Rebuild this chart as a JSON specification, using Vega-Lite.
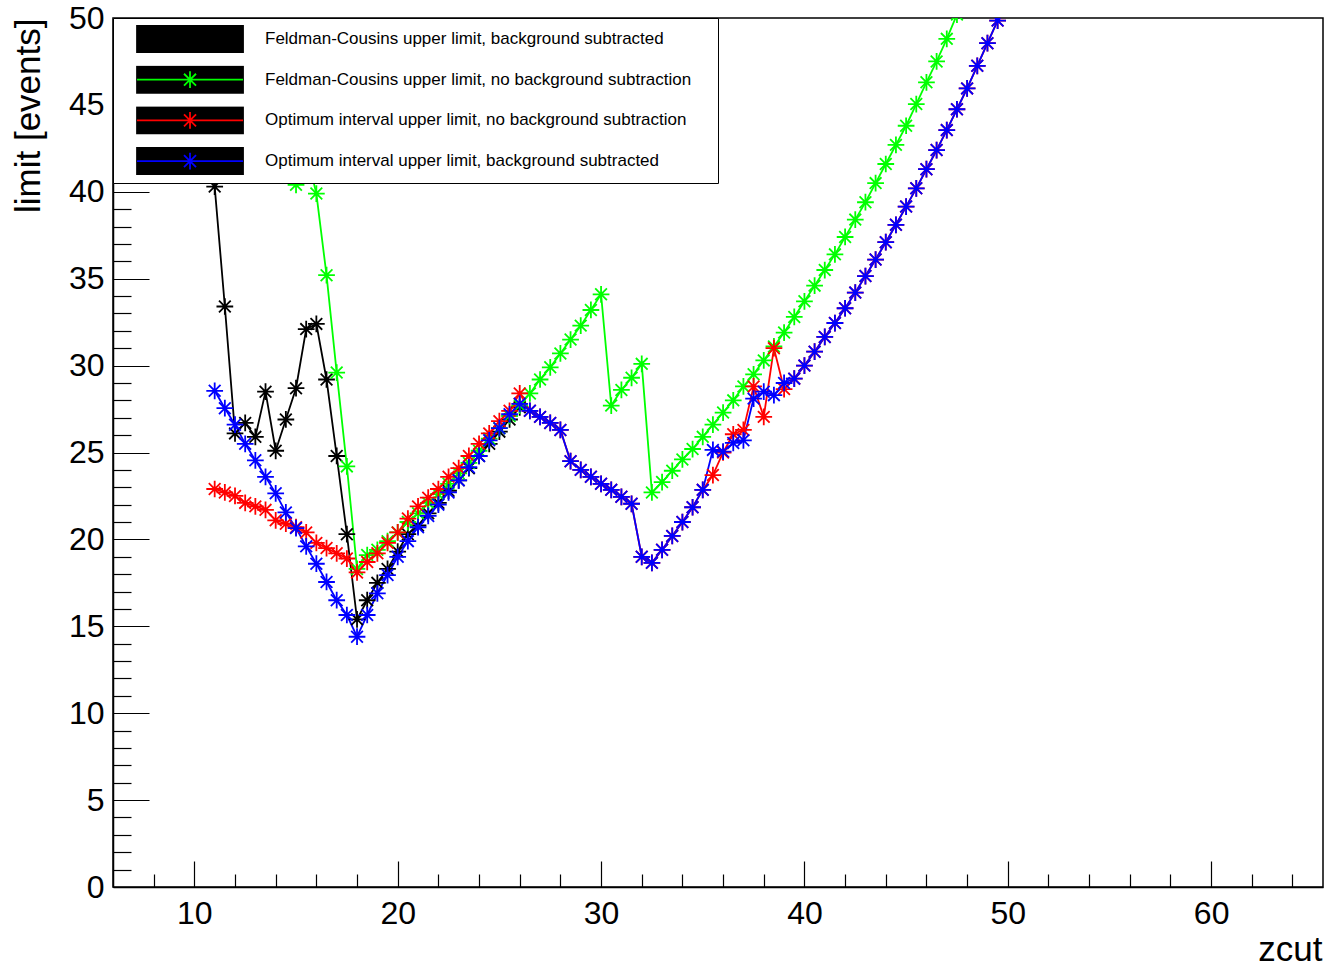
{
  "$schema": "https://vega.github.io/schema/vega-lite/v6.json",
  "width": 1210,
  "height": 869,
  "autosize": "none",
  "padding": {"left": 113, "top": 18, "right": 5, "bottom": 80},
  "background": "white",
  "config": {
    "view": {"stroke": "black", "strokeWidth": 1.5},
    "font": "Liberation Sans",
    "axis": {"grid": false, "domainColor": "black", "domainWidth": 1.5, "tickColor": "black", "tickWidth": 1.2, "labelColor": "black", "labelFont": "Liberation Sans", "labelFontSize": 32, "titleFont": "Liberation Sans", "titleFontSize": 35, "titleFontWeight": "normal", "titleColor": "black", "labelFlush": false, "labelOverlap": false},
    "legend": {"labelFont": "Liberation Sans", "labelFontSize": 17, "labelColor": "black", "labelLimit": 1000, "padding": 7, "rowPadding": 12.7, "clipHeight": 28, "symbolSize": 19600, "symbolStrokeWidth": 1.8, "labelOffset": 3, "symbolOpacity": 1}
  },
  "data": {"values": [
    {"series": "Feldman-Cousins upper limit, background subtracted", "zcut": 11, "limit": 40.3},
    {"series": "Feldman-Cousins upper limit, background subtracted", "zcut": 11.5, "limit": 33.4},
    {"series": "Feldman-Cousins upper limit, background subtracted", "zcut": 12, "limit": 26.1},
    {"series": "Feldman-Cousins upper limit, background subtracted", "zcut": 12.5, "limit": 26.7},
    {"series": "Feldman-Cousins upper limit, background subtracted", "zcut": 13, "limit": 25.9},
    {"series": "Feldman-Cousins upper limit, background subtracted", "zcut": 13.5, "limit": 28.5},
    {"series": "Feldman-Cousins upper limit, background subtracted", "zcut": 14, "limit": 25.1},
    {"series": "Feldman-Cousins upper limit, background subtracted", "zcut": 14.5, "limit": 26.9},
    {"series": "Feldman-Cousins upper limit, background subtracted", "zcut": 15, "limit": 28.7},
    {"series": "Feldman-Cousins upper limit, background subtracted", "zcut": 15.5, "limit": 32.1},
    {"series": "Feldman-Cousins upper limit, background subtracted", "zcut": 16, "limit": 32.4},
    {"series": "Feldman-Cousins upper limit, background subtracted", "zcut": 16.5, "limit": 29.2},
    {"series": "Feldman-Cousins upper limit, background subtracted", "zcut": 17, "limit": 24.8},
    {"series": "Feldman-Cousins upper limit, background subtracted", "zcut": 17.5, "limit": 20.3},
    {"series": "Feldman-Cousins upper limit, background subtracted", "zcut": 18, "limit": 15.4},
    {"series": "Feldman-Cousins upper limit, background subtracted", "zcut": 18.5, "limit": 16.5},
    {"series": "Feldman-Cousins upper limit, background subtracted", "zcut": 19, "limit": 17.5},
    {"series": "Feldman-Cousins upper limit, background subtracted", "zcut": 19.5, "limit": 18.3},
    {"series": "Feldman-Cousins upper limit, background subtracted", "zcut": 20, "limit": 19.3},
    {"series": "Feldman-Cousins upper limit, background subtracted", "zcut": 20.5, "limit": 20.3},
    {"series": "Feldman-Cousins upper limit, background subtracted", "zcut": 21, "limit": 20.8},
    {"series": "Feldman-Cousins upper limit, background subtracted", "zcut": 21.5, "limit": 21.5},
    {"series": "Feldman-Cousins upper limit, background subtracted", "zcut": 22, "limit": 22.1},
    {"series": "Feldman-Cousins upper limit, background subtracted", "zcut": 22.5, "limit": 22.8},
    {"series": "Feldman-Cousins upper limit, background subtracted", "zcut": 23, "limit": 23.4},
    {"series": "Feldman-Cousins upper limit, background subtracted", "zcut": 23.5, "limit": 24.1},
    {"series": "Feldman-Cousins upper limit, background subtracted", "zcut": 24, "limit": 24.8},
    {"series": "Feldman-Cousins upper limit, background subtracted", "zcut": 24.5, "limit": 25.5},
    {"series": "Feldman-Cousins upper limit, background subtracted", "zcut": 25, "limit": 26.2},
    {"series": "Feldman-Cousins upper limit, background subtracted", "zcut": 25.5, "limit": 26.9},
    {"series": "Feldman-Cousins upper limit, background subtracted", "zcut": 26, "limit": 27.6},

    {"series": "Feldman-Cousins upper limit, no background subtraction", "zcut": 11, "limit": 47.0},
    {"series": "Feldman-Cousins upper limit, no background subtraction", "zcut": 11.5, "limit": 45.5},
    {"series": "Feldman-Cousins upper limit, no background subtraction", "zcut": 12, "limit": 44.0},
    {"series": "Feldman-Cousins upper limit, no background subtraction", "zcut": 12.5, "limit": 44.5},
    {"series": "Feldman-Cousins upper limit, no background subtraction", "zcut": 13, "limit": 43.5},
    {"series": "Feldman-Cousins upper limit, no background subtraction", "zcut": 13.5, "limit": 45.0},
    {"series": "Feldman-Cousins upper limit, no background subtraction", "zcut": 14, "limit": 43.0},
    {"series": "Feldman-Cousins upper limit, no background subtraction", "zcut": 14.5, "limit": 44.0},
    {"series": "Feldman-Cousins upper limit, no background subtraction", "zcut": 15, "limit": 40.4},
    {"series": "Feldman-Cousins upper limit, no background subtraction", "zcut": 15.5, "limit": 42.3},
    {"series": "Feldman-Cousins upper limit, no background subtraction", "zcut": 16, "limit": 39.9},
    {"series": "Feldman-Cousins upper limit, no background subtraction", "zcut": 16.5, "limit": 35.2},
    {"series": "Feldman-Cousins upper limit, no background subtraction", "zcut": 17, "limit": 29.6},
    {"series": "Feldman-Cousins upper limit, no background subtraction", "zcut": 17.5, "limit": 24.2},
    {"series": "Feldman-Cousins upper limit, no background subtraction", "zcut": 18, "limit": 18.3},
    {"series": "Feldman-Cousins upper limit, no background subtraction", "zcut": 18.5, "limit": 19.1},
    {"series": "Feldman-Cousins upper limit, no background subtraction", "zcut": 19, "limit": 19.4},
    {"series": "Feldman-Cousins upper limit, no background subtraction", "zcut": 19.5, "limit": 19.9},
    {"series": "Feldman-Cousins upper limit, no background subtraction", "zcut": 20, "limit": 20.4},
    {"series": "Feldman-Cousins upper limit, no background subtraction", "zcut": 20.5, "limit": 21.0},
    {"series": "Feldman-Cousins upper limit, no background subtraction", "zcut": 21, "limit": 21.5},
    {"series": "Feldman-Cousins upper limit, no background subtraction", "zcut": 21.5, "limit": 22.1},
    {"series": "Feldman-Cousins upper limit, no background subtraction", "zcut": 22, "limit": 22.6},
    {"series": "Feldman-Cousins upper limit, no background subtraction", "zcut": 22.5, "limit": 23.2},
    {"series": "Feldman-Cousins upper limit, no background subtraction", "zcut": 23, "limit": 23.8},
    {"series": "Feldman-Cousins upper limit, no background subtraction", "zcut": 23.5, "limit": 24.4},
    {"series": "Feldman-Cousins upper limit, no background subtraction", "zcut": 24, "limit": 25.1},
    {"series": "Feldman-Cousins upper limit, no background subtraction", "zcut": 24.5, "limit": 25.8},
    {"series": "Feldman-Cousins upper limit, no background subtraction", "zcut": 25, "limit": 26.4},
    {"series": "Feldman-Cousins upper limit, no background subtraction", "zcut": 25.5, "limit": 27.1},
    {"series": "Feldman-Cousins upper limit, no background subtraction", "zcut": 26, "limit": 27.7},
    {"series": "Feldman-Cousins upper limit, no background subtraction", "zcut": 26.5, "limit": 28.4},
    {"series": "Feldman-Cousins upper limit, no background subtraction", "zcut": 27, "limit": 29.2},
    {"series": "Feldman-Cousins upper limit, no background subtraction", "zcut": 27.5, "limit": 29.9},
    {"series": "Feldman-Cousins upper limit, no background subtraction", "zcut": 28, "limit": 30.7},
    {"series": "Feldman-Cousins upper limit, no background subtraction", "zcut": 28.5, "limit": 31.5},
    {"series": "Feldman-Cousins upper limit, no background subtraction", "zcut": 29, "limit": 32.3},
    {"series": "Feldman-Cousins upper limit, no background subtraction", "zcut": 29.5, "limit": 33.2},
    {"series": "Feldman-Cousins upper limit, no background subtraction", "zcut": 30, "limit": 34.1},
    {"series": "Feldman-Cousins upper limit, no background subtraction", "zcut": 30.5, "limit": 27.7},
    {"series": "Feldman-Cousins upper limit, no background subtraction", "zcut": 31, "limit": 28.6},
    {"series": "Feldman-Cousins upper limit, no background subtraction", "zcut": 31.5, "limit": 29.3},
    {"series": "Feldman-Cousins upper limit, no background subtraction", "zcut": 32, "limit": 30.1},
    {"series": "Feldman-Cousins upper limit, no background subtraction", "zcut": 32.5, "limit": 22.7},
    {"series": "Feldman-Cousins upper limit, no background subtraction", "zcut": 33, "limit": 23.3},
    {"series": "Feldman-Cousins upper limit, no background subtraction", "zcut": 33.5, "limit": 23.95},
    {"series": "Feldman-Cousins upper limit, no background subtraction", "zcut": 34, "limit": 24.6},
    {"series": "Feldman-Cousins upper limit, no background subtraction", "zcut": 34.5, "limit": 25.2},
    {"series": "Feldman-Cousins upper limit, no background subtraction", "zcut": 35, "limit": 25.9},
    {"series": "Feldman-Cousins upper limit, no background subtraction", "zcut": 35.5, "limit": 26.6},
    {"series": "Feldman-Cousins upper limit, no background subtraction", "zcut": 36, "limit": 27.3},
    {"series": "Feldman-Cousins upper limit, no background subtraction", "zcut": 36.5, "limit": 28.0},
    {"series": "Feldman-Cousins upper limit, no background subtraction", "zcut": 37, "limit": 28.8},
    {"series": "Feldman-Cousins upper limit, no background subtraction", "zcut": 37.5, "limit": 29.5},
    {"series": "Feldman-Cousins upper limit, no background subtraction", "zcut": 38, "limit": 30.3},
    {"series": "Feldman-Cousins upper limit, no background subtraction", "zcut": 38.5, "limit": 31.1},
    {"series": "Feldman-Cousins upper limit, no background subtraction", "zcut": 39, "limit": 31.9},
    {"series": "Feldman-Cousins upper limit, no background subtraction", "zcut": 39.5, "limit": 32.8},
    {"series": "Feldman-Cousins upper limit, no background subtraction", "zcut": 40, "limit": 33.7},
    {"series": "Feldman-Cousins upper limit, no background subtraction", "zcut": 40.5, "limit": 34.6},
    {"series": "Feldman-Cousins upper limit, no background subtraction", "zcut": 41, "limit": 35.5},
    {"series": "Feldman-Cousins upper limit, no background subtraction", "zcut": 41.5, "limit": 36.4},
    {"series": "Feldman-Cousins upper limit, no background subtraction", "zcut": 42, "limit": 37.4},
    {"series": "Feldman-Cousins upper limit, no background subtraction", "zcut": 42.5, "limit": 38.4},
    {"series": "Feldman-Cousins upper limit, no background subtraction", "zcut": 43, "limit": 39.4},
    {"series": "Feldman-Cousins upper limit, no background subtraction", "zcut": 43.5, "limit": 40.5},
    {"series": "Feldman-Cousins upper limit, no background subtraction", "zcut": 44, "limit": 41.6},
    {"series": "Feldman-Cousins upper limit, no background subtraction", "zcut": 44.5, "limit": 42.7},
    {"series": "Feldman-Cousins upper limit, no background subtraction", "zcut": 45, "limit": 43.8},
    {"series": "Feldman-Cousins upper limit, no background subtraction", "zcut": 45.5, "limit": 45.05},
    {"series": "Feldman-Cousins upper limit, no background subtraction", "zcut": 46, "limit": 46.3},
    {"series": "Feldman-Cousins upper limit, no background subtraction", "zcut": 46.5, "limit": 47.5},
    {"series": "Feldman-Cousins upper limit, no background subtraction", "zcut": 47, "limit": 48.8},
    {"series": "Feldman-Cousins upper limit, no background subtraction", "zcut": 47.5, "limit": 50.2},

    {"series": "Optimum interval upper limit, no background subtraction", "zcut": 11, "limit": 22.9},
    {"series": "Optimum interval upper limit, no background subtraction", "zcut": 11.5, "limit": 22.7},
    {"series": "Optimum interval upper limit, no background subtraction", "zcut": 12, "limit": 22.5},
    {"series": "Optimum interval upper limit, no background subtraction", "zcut": 12.5, "limit": 22.1},
    {"series": "Optimum interval upper limit, no background subtraction", "zcut": 13, "limit": 21.9},
    {"series": "Optimum interval upper limit, no background subtraction", "zcut": 13.5, "limit": 21.7},
    {"series": "Optimum interval upper limit, no background subtraction", "zcut": 14, "limit": 21.1},
    {"series": "Optimum interval upper limit, no background subtraction", "zcut": 14.5, "limit": 20.9},
    {"series": "Optimum interval upper limit, no background subtraction", "zcut": 15, "limit": 20.7},
    {"series": "Optimum interval upper limit, no background subtraction", "zcut": 15.5, "limit": 20.4},
    {"series": "Optimum interval upper limit, no background subtraction", "zcut": 16, "limit": 19.8},
    {"series": "Optimum interval upper limit, no background subtraction", "zcut": 16.5, "limit": 19.5},
    {"series": "Optimum interval upper limit, no background subtraction", "zcut": 17, "limit": 19.2},
    {"series": "Optimum interval upper limit, no background subtraction", "zcut": 17.5, "limit": 18.9},
    {"series": "Optimum interval upper limit, no background subtraction", "zcut": 18, "limit": 18.1},
    {"series": "Optimum interval upper limit, no background subtraction", "zcut": 18.5, "limit": 18.7},
    {"series": "Optimum interval upper limit, no background subtraction", "zcut": 19, "limit": 19.2},
    {"series": "Optimum interval upper limit, no background subtraction", "zcut": 19.5, "limit": 19.8},
    {"series": "Optimum interval upper limit, no background subtraction", "zcut": 20, "limit": 20.4},
    {"series": "Optimum interval upper limit, no background subtraction", "zcut": 20.5, "limit": 21.2},
    {"series": "Optimum interval upper limit, no background subtraction", "zcut": 21, "limit": 21.9},
    {"series": "Optimum interval upper limit, no background subtraction", "zcut": 21.5, "limit": 22.4},
    {"series": "Optimum interval upper limit, no background subtraction", "zcut": 22, "limit": 22.9},
    {"series": "Optimum interval upper limit, no background subtraction", "zcut": 22.5, "limit": 23.6},
    {"series": "Optimum interval upper limit, no background subtraction", "zcut": 23, "limit": 24.1},
    {"series": "Optimum interval upper limit, no background subtraction", "zcut": 23.5, "limit": 24.8},
    {"series": "Optimum interval upper limit, no background subtraction", "zcut": 24, "limit": 25.5},
    {"series": "Optimum interval upper limit, no background subtraction", "zcut": 24.5, "limit": 26.1},
    {"series": "Optimum interval upper limit, no background subtraction", "zcut": 25, "limit": 26.8},
    {"series": "Optimum interval upper limit, no background subtraction", "zcut": 25.5, "limit": 27.4},
    {"series": "Optimum interval upper limit, no background subtraction", "zcut": 26, "limit": 28.4},
    {"series": "Optimum interval upper limit, no background subtraction", "zcut": 26.5, "limit": 27.4},
    {"series": "Optimum interval upper limit, no background subtraction", "zcut": 27, "limit": 27.05},
    {"series": "Optimum interval upper limit, no background subtraction", "zcut": 27.5, "limit": 26.7},
    {"series": "Optimum interval upper limit, no background subtraction", "zcut": 28, "limit": 26.3},
    {"series": "Optimum interval upper limit, no background subtraction", "zcut": 28.5, "limit": 24.5},
    {"series": "Optimum interval upper limit, no background subtraction", "zcut": 29, "limit": 24.0},
    {"series": "Optimum interval upper limit, no background subtraction", "zcut": 29.5, "limit": 23.6},
    {"series": "Optimum interval upper limit, no background subtraction", "zcut": 30, "limit": 23.2},
    {"series": "Optimum interval upper limit, no background subtraction", "zcut": 30.5, "limit": 22.85},
    {"series": "Optimum interval upper limit, no background subtraction", "zcut": 31, "limit": 22.45},
    {"series": "Optimum interval upper limit, no background subtraction", "zcut": 31.5, "limit": 22.05},
    {"series": "Optimum interval upper limit, no background subtraction", "zcut": 32, "limit": 19.0},
    {"series": "Optimum interval upper limit, no background subtraction", "zcut": 32.5, "limit": 18.65},
    {"series": "Optimum interval upper limit, no background subtraction", "zcut": 33, "limit": 19.4},
    {"series": "Optimum interval upper limit, no background subtraction", "zcut": 33.5, "limit": 20.2},
    {"series": "Optimum interval upper limit, no background subtraction", "zcut": 34, "limit": 21.0},
    {"series": "Optimum interval upper limit, no background subtraction", "zcut": 34.5, "limit": 21.85},
    {"series": "Optimum interval upper limit, no background subtraction", "zcut": 35, "limit": 22.85},
    {"series": "Optimum interval upper limit, no background subtraction", "zcut": 35.5, "limit": 23.7},
    {"series": "Optimum interval upper limit, no background subtraction", "zcut": 36, "limit": 25.0},
    {"series": "Optimum interval upper limit, no background subtraction", "zcut": 36.5, "limit": 26.05},
    {"series": "Optimum interval upper limit, no background subtraction", "zcut": 37, "limit": 26.3},
    {"series": "Optimum interval upper limit, no background subtraction", "zcut": 37.5, "limit": 28.8},
    {"series": "Optimum interval upper limit, no background subtraction", "zcut": 38, "limit": 27.05},
    {"series": "Optimum interval upper limit, no background subtraction", "zcut": 38.5, "limit": 31.0},
    {"series": "Optimum interval upper limit, no background subtraction", "zcut": 39, "limit": 28.65},
    {"series": "Optimum interval upper limit, no background subtraction", "zcut": 39.5, "limit": 29.25},
    {"series": "Optimum interval upper limit, no background subtraction", "zcut": 40, "limit": 30.0},
    {"series": "Optimum interval upper limit, no background subtraction", "zcut": 40.5, "limit": 30.8},
    {"series": "Optimum interval upper limit, no background subtraction", "zcut": 41, "limit": 31.65},
    {"series": "Optimum interval upper limit, no background subtraction", "zcut": 41.5, "limit": 32.45},
    {"series": "Optimum interval upper limit, no background subtraction", "zcut": 42, "limit": 33.3},
    {"series": "Optimum interval upper limit, no background subtraction", "zcut": 42.5, "limit": 34.2},
    {"series": "Optimum interval upper limit, no background subtraction", "zcut": 43, "limit": 35.15},
    {"series": "Optimum interval upper limit, no background subtraction", "zcut": 43.5, "limit": 36.1},
    {"series": "Optimum interval upper limit, no background subtraction", "zcut": 44, "limit": 37.1},
    {"series": "Optimum interval upper limit, no background subtraction", "zcut": 44.5, "limit": 38.1},
    {"series": "Optimum interval upper limit, no background subtraction", "zcut": 45, "limit": 39.15},
    {"series": "Optimum interval upper limit, no background subtraction", "zcut": 45.5, "limit": 40.2},
    {"series": "Optimum interval upper limit, no background subtraction", "zcut": 46, "limit": 41.3},
    {"series": "Optimum interval upper limit, no background subtraction", "zcut": 46.5, "limit": 42.4},
    {"series": "Optimum interval upper limit, no background subtraction", "zcut": 47, "limit": 43.55},
    {"series": "Optimum interval upper limit, no background subtraction", "zcut": 47.5, "limit": 44.75},
    {"series": "Optimum interval upper limit, no background subtraction", "zcut": 48, "limit": 45.95},
    {"series": "Optimum interval upper limit, no background subtraction", "zcut": 48.5, "limit": 47.25},
    {"series": "Optimum interval upper limit, no background subtraction", "zcut": 49, "limit": 48.55},
    {"series": "Optimum interval upper limit, no background subtraction", "zcut": 49.5, "limit": 49.85},

    {"series": "Optimum interval upper limit, background subtracted", "zcut": 11, "limit": 28.55},
    {"series": "Optimum interval upper limit, background subtracted", "zcut": 11.5, "limit": 27.55},
    {"series": "Optimum interval upper limit, background subtracted", "zcut": 12, "limit": 26.6},
    {"series": "Optimum interval upper limit, background subtracted", "zcut": 12.5, "limit": 25.5},
    {"series": "Optimum interval upper limit, background subtracted", "zcut": 13, "limit": 24.55},
    {"series": "Optimum interval upper limit, background subtracted", "zcut": 13.5, "limit": 23.6},
    {"series": "Optimum interval upper limit, background subtracted", "zcut": 14, "limit": 22.65},
    {"series": "Optimum interval upper limit, background subtracted", "zcut": 14.5, "limit": 21.55},
    {"series": "Optimum interval upper limit, background subtracted", "zcut": 15, "limit": 20.65},
    {"series": "Optimum interval upper limit, background subtracted", "zcut": 15.5, "limit": 19.6},
    {"series": "Optimum interval upper limit, background subtracted", "zcut": 16, "limit": 18.6},
    {"series": "Optimum interval upper limit, background subtracted", "zcut": 16.5, "limit": 17.55},
    {"series": "Optimum interval upper limit, background subtracted", "zcut": 17, "limit": 16.5},
    {"series": "Optimum interval upper limit, background subtracted", "zcut": 17.5, "limit": 15.65},
    {"series": "Optimum interval upper limit, background subtracted", "zcut": 18, "limit": 14.4},
    {"series": "Optimum interval upper limit, background subtracted", "zcut": 18.5, "limit": 15.65},
    {"series": "Optimum interval upper limit, background subtracted", "zcut": 19, "limit": 16.9},
    {"series": "Optimum interval upper limit, background subtracted", "zcut": 19.5, "limit": 17.95},
    {"series": "Optimum interval upper limit, background subtracted", "zcut": 20, "limit": 19.0},
    {"series": "Optimum interval upper limit, background subtracted", "zcut": 20.5, "limit": 19.9},
    {"series": "Optimum interval upper limit, background subtracted", "zcut": 21, "limit": 20.7},
    {"series": "Optimum interval upper limit, background subtracted", "zcut": 21.5, "limit": 21.35},
    {"series": "Optimum interval upper limit, background subtracted", "zcut": 22, "limit": 22.0},
    {"series": "Optimum interval upper limit, background subtracted", "zcut": 22.5, "limit": 22.7},
    {"series": "Optimum interval upper limit, background subtracted", "zcut": 23, "limit": 23.4},
    {"series": "Optimum interval upper limit, background subtracted", "zcut": 23.5, "limit": 24.15},
    {"series": "Optimum interval upper limit, background subtracted", "zcut": 24, "limit": 24.8},
    {"series": "Optimum interval upper limit, background subtracted", "zcut": 24.5, "limit": 25.7},
    {"series": "Optimum interval upper limit, background subtracted", "zcut": 25, "limit": 26.4},
    {"series": "Optimum interval upper limit, background subtracted", "zcut": 25.5, "limit": 27.2},
    {"series": "Optimum interval upper limit, background subtracted", "zcut": 26, "limit": 27.8},
    {"series": "Optimum interval upper limit, background subtracted", "zcut": 26.5, "limit": 27.4},
    {"series": "Optimum interval upper limit, background subtracted", "zcut": 27, "limit": 27.05},
    {"series": "Optimum interval upper limit, background subtracted", "zcut": 27.5, "limit": 26.7},
    {"series": "Optimum interval upper limit, background subtracted", "zcut": 28, "limit": 26.3},
    {"series": "Optimum interval upper limit, background subtracted", "zcut": 28.5, "limit": 24.5},
    {"series": "Optimum interval upper limit, background subtracted", "zcut": 29, "limit": 24.0},
    {"series": "Optimum interval upper limit, background subtracted", "zcut": 29.5, "limit": 23.6},
    {"series": "Optimum interval upper limit, background subtracted", "zcut": 30, "limit": 23.2},
    {"series": "Optimum interval upper limit, background subtracted", "zcut": 30.5, "limit": 22.85},
    {"series": "Optimum interval upper limit, background subtracted", "zcut": 31, "limit": 22.45},
    {"series": "Optimum interval upper limit, background subtracted", "zcut": 31.5, "limit": 22.05},
    {"series": "Optimum interval upper limit, background subtracted", "zcut": 32, "limit": 19.0},
    {"series": "Optimum interval upper limit, background subtracted", "zcut": 32.5, "limit": 18.65},
    {"series": "Optimum interval upper limit, background subtracted", "zcut": 33, "limit": 19.4},
    {"series": "Optimum interval upper limit, background subtracted", "zcut": 33.5, "limit": 20.2},
    {"series": "Optimum interval upper limit, background subtracted", "zcut": 34, "limit": 21.0},
    {"series": "Optimum interval upper limit, background subtracted", "zcut": 34.5, "limit": 21.85},
    {"series": "Optimum interval upper limit, background subtracted", "zcut": 35, "limit": 22.85},
    {"series": "Optimum interval upper limit, background subtracted", "zcut": 35.5, "limit": 25.15},
    {"series": "Optimum interval upper limit, background subtracted", "zcut": 36, "limit": 25.05},
    {"series": "Optimum interval upper limit, background subtracted", "zcut": 36.5, "limit": 25.55},
    {"series": "Optimum interval upper limit, background subtracted", "zcut": 37, "limit": 25.7},
    {"series": "Optimum interval upper limit, background subtracted", "zcut": 37.5, "limit": 28.1},
    {"series": "Optimum interval upper limit, background subtracted", "zcut": 38, "limit": 28.5},
    {"series": "Optimum interval upper limit, background subtracted", "zcut": 38.5, "limit": 28.3},
    {"series": "Optimum interval upper limit, background subtracted", "zcut": 39, "limit": 29.0},
    {"series": "Optimum interval upper limit, background subtracted", "zcut": 39.5, "limit": 29.25},
    {"series": "Optimum interval upper limit, background subtracted", "zcut": 40, "limit": 30.0},
    {"series": "Optimum interval upper limit, background subtracted", "zcut": 40.5, "limit": 30.8},
    {"series": "Optimum interval upper limit, background subtracted", "zcut": 41, "limit": 31.65},
    {"series": "Optimum interval upper limit, background subtracted", "zcut": 41.5, "limit": 32.45},
    {"series": "Optimum interval upper limit, background subtracted", "zcut": 42, "limit": 33.3},
    {"series": "Optimum interval upper limit, background subtracted", "zcut": 42.5, "limit": 34.2},
    {"series": "Optimum interval upper limit, background subtracted", "zcut": 43, "limit": 35.15},
    {"series": "Optimum interval upper limit, background subtracted", "zcut": 43.5, "limit": 36.1},
    {"series": "Optimum interval upper limit, background subtracted", "zcut": 44, "limit": 37.1},
    {"series": "Optimum interval upper limit, background subtracted", "zcut": 44.5, "limit": 38.1},
    {"series": "Optimum interval upper limit, background subtracted", "zcut": 45, "limit": 39.15},
    {"series": "Optimum interval upper limit, background subtracted", "zcut": 45.5, "limit": 40.2},
    {"series": "Optimum interval upper limit, background subtracted", "zcut": 46, "limit": 41.3},
    {"series": "Optimum interval upper limit, background subtracted", "zcut": 46.5, "limit": 42.4},
    {"series": "Optimum interval upper limit, background subtracted", "zcut": 47, "limit": 43.55},
    {"series": "Optimum interval upper limit, background subtracted", "zcut": 47.5, "limit": 44.75},
    {"series": "Optimum interval upper limit, background subtracted", "zcut": 48, "limit": 45.95},
    {"series": "Optimum interval upper limit, background subtracted", "zcut": 48.5, "limit": 47.25},
    {"series": "Optimum interval upper limit, background subtracted", "zcut": 49, "limit": 48.55},
    {"series": "Optimum interval upper limit, background subtracted", "zcut": 49.5, "limit": 49.85}
  ]},
  "layer": [
    {
      "mark": {"type": "line", "strokeWidth": 1.8, "clip": true},
      "encoding": {
        "x": {"field": "zcut", "type": "quantitative", "scale": {"domain": [6, 65.5], "nice": false, "zero": false},
              "axis": {"values": [10, 20, 30, 40, 50, 60], "tickSize": -26, "labelPadding": 37, "title": "zcut", "titleX": 1209, "titleY": 73, "titleAlign": "right", "titleBaseline": "alphabetic", "titleAnchor": "end"}},
        "y": {"field": "limit", "type": "quantitative", "scale": {"domain": [0, 50], "nice": false, "zero": false},
              "axis": {"values": [0, 5, 10, 15, 20, 25, 30, 35, 40, 45, 50], "tickSize": -36, "labelPadding": 45, "title": "limit [events]", "titleX": -74, "titleY": 0, "titleAngle": 270, "titleAlign": "right", "titleBaseline": "alphabetic", "titleAnchor": "end"}},
        "color": {"field": "series", "type": "nominal",
                  "scale": {"domain": ["Feldman-Cousins upper limit, background subtracted", "Feldman-Cousins upper limit, no background subtraction", "Optimum interval upper limit, no background subtraction", "Optimum interval upper limit, background subtracted"], "range": ["#000000", "#00ff00", "#ff0000", "#0000ff"]},
                  "legend": {"orient": "none", "legendX": 0, "legendY": 0, "title": null, "zindex": 2,
                             "symbolType": "M-1,0M-0.771,-0.19M-0.771,0.19M-0.771,0H0.743M-0.014,-0.12V0.12M-0.1,-0.085L0.072,0.085M-0.1,0.085L0.072,-0.085",
                             "symbolFillColor": "transparent", "labelExpr": "''", "fillColor": null, "strokeColor": null}}
      }
    },
    {
      "mark": {"type": "point", "shape": "M-1,0H1M0,-1V1M-0.7,-0.7L0.7,0.7M-0.7,0.7L0.7,-0.7", "filled": false, "size": 280, "strokeWidth": 1.8, "opacity": 1, "clip": true},
      "encoding": {
        "x": {"field": "zcut", "type": "quantitative", "scale": {"domain": [6, 65.5], "nice": false, "zero": false},
              "axis": {"orient": "bottom", "values": [8, 12, 14, 16, 18, 22, 24, 26, 28, 32, 34, 36, 38, 42, 44, 46, 48, 52, 54, 56, 58, 62, 64], "tickSize": -13, "labels": false, "domain": false, "title": null}},
        "y": {"field": "limit", "type": "quantitative", "scale": {"domain": [0, 50], "nice": false, "zero": false},
              "axis": {"orient": "left", "values": [1, 2, 3, 4, 6, 7, 8, 9, 11, 12, 13, 14, 16, 17, 18, 19, 21, 22, 23, 24, 26, 27, 28, 29, 31, 32, 33, 34, 36, 37, 38, 39, 41, 42, 43, 44, 46, 47, 48, 49], "tickSize": -18, "labels": false, "domain": false, "title": null}},
        "color": {"field": "series", "type": "nominal"},
        "fill": {"field": "series", "type": "nominal",
                 "scale": {"domain": ["Feldman-Cousins upper limit, background subtracted", "Feldman-Cousins upper limit, no background subtraction", "Optimum interval upper limit, no background subtraction", "Optimum interval upper limit, background subtracted"], "range": ["#000000", "#000000", "#000000", "#000000"]},
                 "legend": {"orient": "top-left", "offset": 0, "title": null, "zindex": 1,
                            "symbolType": "M-1,0M-0.771,-0.19H0.743V0.19H-0.771Z",
                            "symbolFillColor": "black", "symbolStrokeColor": "black",
                            "fillColor": "white", "strokeColor": "black",
                            "labelExpr": "datum.label + '\u00a0\u00a0\u00a0\u00a0\u200b'",
                            "encode": {"symbols": {"update": {"fill": {"value": "black"}, "stroke": {"value": "black"}, "opacity": {"value": 1}}}}}}
      }
    }
  ],
  "resolve": {"axis": {"x": "independent", "y": "independent"}}
}
